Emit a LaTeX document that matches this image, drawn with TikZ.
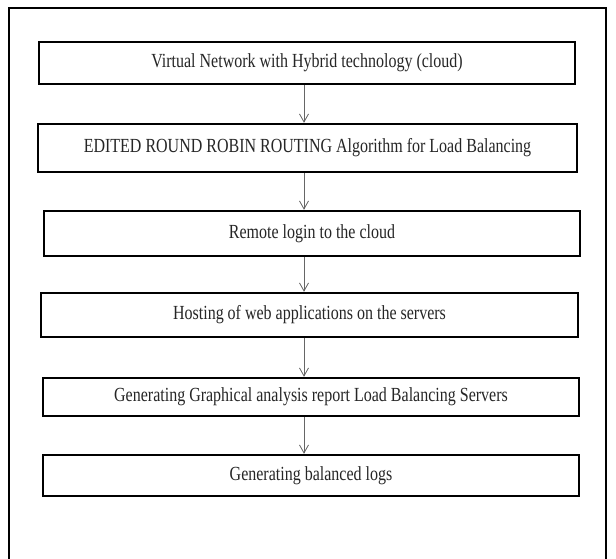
\documentclass[tikz,border=0pt]{standalone}
\usepackage{fontspec}
\setmainfont{Liberation Serif}[FakeStretch=0.8]
\usetikzlibrary{arrows.meta}
\begin{document}
\begin{tikzpicture}[x=1pt,y=-1pt,
  stepbox/.style={draw=black, line width=2.5pt, rectangle, inner sep=0pt,
    font=\fontsize{20}{22}\selectfont, text=black!85},
  arr/.style={draw=black!60, line width=0.8pt, -{Straight Barb[length=8pt,width=9pt,line width=0.8pt]}}]
\useasboundingbox (0,0) rectangle (616,558);
\fill[white] (0,0) rectangle (616,558);
\draw[line width=2pt] (9,560) -- (9,8) -- (606,8) -- (606,560);
\node[stepbox, minimum width=536pt, minimum height=42pt] (b1) at (307,63) {Virtual Network with Hybrid technology (cloud)};
\node[stepbox, minimum width=539pt, minimum height=48pt] (b2) at (307.5,148) {EDITED ROUND ROBIN ROUTING Algorithm for Load Balancing};
\node[stepbox, minimum width=536pt, minimum height=45pt] (b3) at (312,233.5) {Remote login to the cloud};
\node[stepbox, minimum width=537pt, minimum height=44pt] (b4) at (309.5,315) {Hosting of web applications on the servers};
\node[stepbox, minimum width=536pt, minimum height=38pt] (b5) at (311,397) {Generating Graphical analysis report Load Balancing Servers};
\node[stepbox, minimum width=536pt, minimum height=41pt] (b6) at (311,475.5) {Generating balanced logs};
\coordinate (ax) at (304,0);
\draw[arr] (b1.south -| ax) -- (b2.north -| ax);
\draw[arr] (b2.south -| ax) -- (b3.north -| ax);
\draw[arr] (b3.south -| ax) -- (b4.north -| ax);
\draw[arr] (b4.south -| ax) -- (b5.north -| ax);
\draw[arr] (b5.south -| ax) -- (b6.north -| ax);
\end{tikzpicture}
\end{document}
